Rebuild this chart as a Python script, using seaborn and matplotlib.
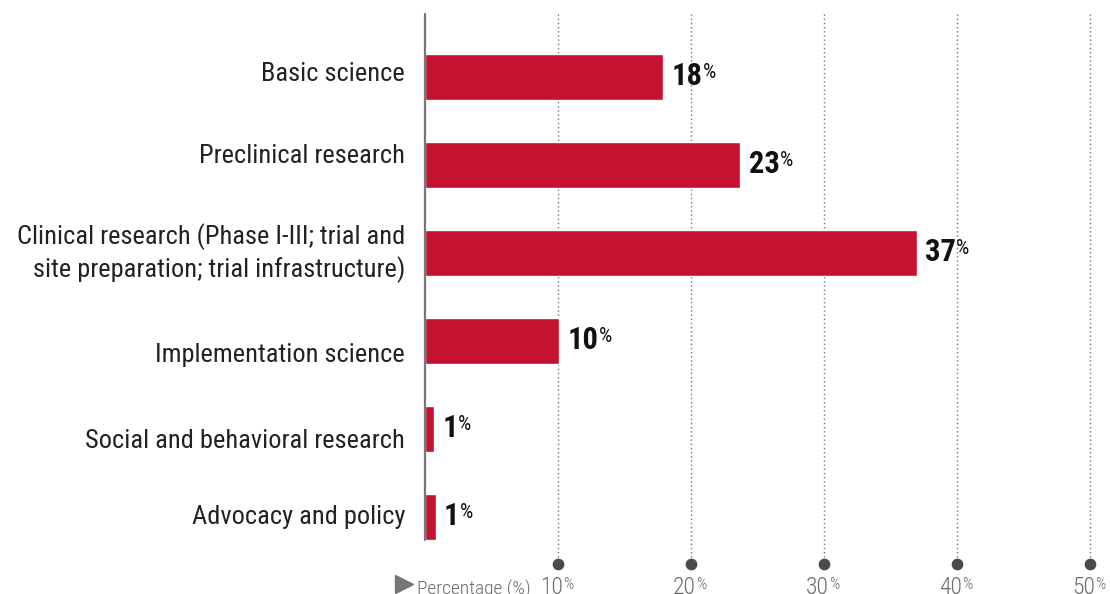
import matplotlib
matplotlib.use("Agg")
import matplotlib.pyplot as plt
import seaborn as sns
import pandas as pd

categories = [
    "Basic science",
    "Preclinical research",
    "Clinical research (Phase I-III; trial and\nsite preparation; trial infrastructure)",
    "Implementation science",
    "Social and behavioral research",
    "Advocacy and policy",
]
values = [17.9, 23.7, 37.0, 10.1, 0.7, 0.8]
value_labels = ["18", "23", "37", "10", "1", "1"]
xticks = [10, 20, 30, 40, 50]
xtick_labels = ["10", "20", "30", "40", "50"]

# small vertical nudges of the category labels (layout, in category units)
label_nudge = [-0.035, -0.10, 0.0, 0.16, 0.135, 0.0]

sns.set_theme(style="white")
FONT = ["Roboto Condensed", "DejaVu Sans"]
plt.rcParams["font.family"] = FONT

df = pd.DataFrame({"category": categories, "value": values})

fig = plt.figure(figsize=(11.1, 5.94), dpi=100)
W, H = 1110, 594
ax = fig.add_axes([425 / W, (H - 564) / H, (1090 - 425) / W, (564 - 14) / H])

sns.barplot(data=df, x="value", y="category", orient="h", color="#C41230",
            width=0.52, saturation=1, ax=ax, zorder=3)

ax.set_xlim(0, 50)
ytop, ybot = -0.716, 5.53
ax.set_ylim(ybot, ytop)
for s in ax.spines.values():
    s.set_visible(False)
ax.set_xticks([])
ax.set_yticks([])
ax.set_xlabel("")
ax.set_ylabel("")

# vertical axis line
ax.plot([0, 0], [ytop, 5.26], color="#777777", lw=1.6, zorder=4, clip_on=False)

# dotted gridlines with dot at the bottom
ax.vlines(xticks, ytop, 5.45, colors="#777777", linestyles=(0, (1, 2)), lw=1.0, zorder=1, clip_on=False)
ax.scatter(xticks, [5.53] * len(xticks), s=55, color="#4a4a4a", zorder=5, clip_on=False)

# tick labels
for t, lab in zip(xticks, xtick_labels):
    tt = ax.text(t - 0.5, 5.80, lab, ha="center", va="center", fontsize=17, color="#6a6a6a",
                 fontweight="light")
    ax.annotate("%", xy=(1, 0.97), xycoords=tt, ha="left", va="top", fontsize=11.5,
                color="#6a6a6a", fontweight="light")

# axis title
ax.plot([-1.6], [5.76], marker=">", markersize=13, color="#777777", clip_on=False, zorder=5)
ax.text(-0.6, 5.82, "Percentage (%)", ha="left", va="center", fontsize=14, color="#6a6a6a",
        fontweight="light")

# category labels
for i, (c, dy) in enumerate(zip(categories, label_nudge)):
    ax.text(-1.5, i + dy, c, ha="right", va="center", fontsize=19, color="#222222",
            linespacing=1.3)

# value labels
for i, (v, lab) in enumerate(zip(values, value_labels)):
    t = ax.annotate(lab, xy=(v, i), xytext=(6, 1), textcoords="offset points",
                    ha="left", va="center", fontsize=22, fontweight="bold", color="#111111")
    ax.annotate("%", xy=(1, 0.93), xycoords=t, ha="left", va="top", fontsize=15,
                color="#111111")

fig.savefig("out.png", dpi=100)
